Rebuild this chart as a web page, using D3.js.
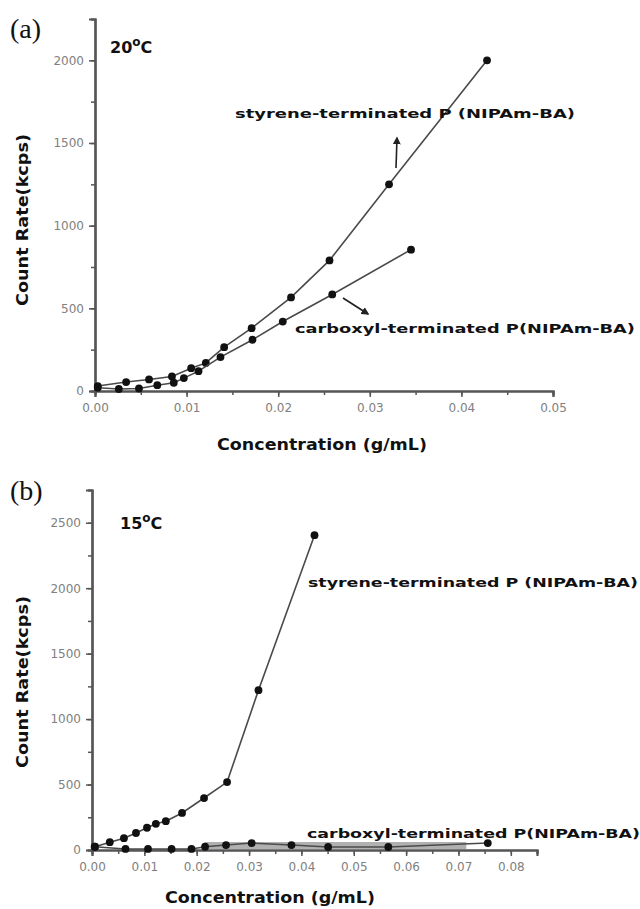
<!DOCTYPE html>
<html>
<head>
<meta charset="utf-8">
<script src="https://cdn.jsdelivr.net/npm/d3@7"></script>
<style>
  body { margin: 0; background: #fff; }
  svg { display: block; }
</style>
</head>
<body>
<div class="viz"></div>
<script>
// panel (a), 20 °C
const concStyreneA = [0.0003, 0.0034, 0.0059, 0.0084, 0.0105, 0.0121, 0.0141, 0.0171, 0.0214, 0.0256, 0.0321, 0.0428];
const rateStyreneA = [30, 54, 70, 88, 138, 170, 265, 380, 566, 790, 1250, 2000];
const concCarboxylA = [0.0003, 0.0026, 0.0048, 0.0068, 0.0086, 0.0097, 0.0113, 0.0137, 0.0172, 0.0205, 0.0259, 0.0345];
const rateCarboxylA = [20, 12, 15, 35, 50, 78, 120, 205, 310, 420, 584, 855];
const xTicksA = [0, 0.01, 0.02, 0.03, 0.04, 0.05];
const yTicksA = [0, 500, 1000, 1500, 2000];

// panel (b), 15 °C
const concStyreneB = [0.0006, 0.0034, 0.0061, 0.0084, 0.0105, 0.0122, 0.0141, 0.0172, 0.0214, 0.0258, 0.0318, 0.0425];
const rateStyreneB = [25, 60, 90, 130, 170, 200, 220, 283, 397, 519, 1221, 2405];
const concCarboxylB = [0.0005, 0.0064, 0.0107, 0.0152, 0.0190, 0.0216, 0.0256, 0.0305, 0.0381, 0.0451, 0.0566, 0.0756];
const rateCarboxylB = [25, 8, 8, 8, 8, 25, 38, 53, 38, 23, 23, 53];
const xTicksB = [0, 0.01, 0.02, 0.03, 0.04, 0.05, 0.06, 0.07, 0.08];
const yTicksB = [0, 500, 1000, 1500, 2000, 2500];
// grey smear along the baseline of panel (b)
const bandB = [0.0215, 0.0715];

const svg = d3.select('.viz')
  .append('svg')
  .attr('width', 640)
  .attr('height', 909)
  .style('font-family', '"DejaVu Sans", sans-serif');

svg.append('rect').attr('width', 640).attr('height', 909).attr('fill', '#fff');

// arrow head marker
svg.append('defs')
  .append('marker')
  .attr('id', 'arrow')
  .attr('viewBox', '0 0 10 10')
  .attr('refX', 8).attr('refY', 5)
  .attr('markerWidth', 5).attr('markerHeight', 5)
  .attr('orient', 'auto')
  .append('path')
  .attr('d', 'M0 0 L10 5 L0 10 Z')
  .attr('fill', '#222');

const zip = (xs, ys) => xs.map((x, i) => ({ x, y: ys[i] }));

function drawPanel(p) {
  const x = d3.scaleLinear().domain(p.xDomain).range(p.xRange);
  const y = d3.scaleLinear().domain(p.yDomain).range(p.yRange);
  const g = svg.append('g');

  // band behind the data
  if (p.band) {
    g.append('line')
      .attr('x1', x(p.band[0])).attr('x2', x(p.band[1]))
      .attr('y1', y(35)).attr('y2', y(35))
      .attr('stroke', '#b0b0b0')
      .attr('stroke-width', 7);
  }

  // minor ticks, then labelled major ticks on top
  const xMinor = d3.range(p.xDomain[0], p.xDomain[1] + 1e-9, p.xMinor);
  const yMinor = d3.range(p.yDomain[0], p.yDomain[1] + 1e-9, p.yMinor);

  const xAxis = d3.axisBottom(x).tickValues(xMinor).tickSize(4).tickFormat('');
  const yAxis = d3.axisLeft(y).tickValues(yMinor).tickSize(4).tickFormat('');
  g.append('g').attr('class', 'axis').attr('transform', `translate(0 ${p.yRange[0]})`).call(xAxis);
  g.append('g').attr('class', 'axis').attr('transform', `translate(${p.xRange[0]} 0)`).call(yAxis);

  const xMajor = d3.axisBottom(x).tickValues(p.xTicks).tickSize(6).tickPadding(6).tickFormat(d3.format('.2f'));
  const yMajor = d3.axisLeft(y).tickValues(p.yTicks).tickSize(6).tickPadding(5).tickFormat(d3.format('d'));
  g.append('g').attr('class', 'axis').attr('transform', `translate(0 ${p.yRange[0]})`).call(xMajor);
  g.append('g').attr('class', 'axis').attr('transform', `translate(${p.xRange[0]} 0)`).call(yMajor);

  g.selectAll('.axis path').attr('stroke', '#555').attr('stroke-width', 2.2);
  g.selectAll('.axis line').attr('stroke', '#555').attr('stroke-width', 1.5);
  g.selectAll('.axis text')
    .attr('fill', '#808080')
    .attr('font-size', 12)
    .attr('font-family', '"DejaVu Sans", sans-serif');

  // series
  const line = d3.line().x(d => x(d.x)).y(d => y(d.y));
  p.series.forEach(s => {
    g.append('path')
      .attr('d', line(s))
      .attr('fill', 'none')
      .attr('stroke', '#4a4a4a')
      .attr('stroke-width', 1.6);
    g.selectAll(null)
      .data(s)
      .enter()
      .append('circle')
      .attr('cx', d => x(d.x))
      .attr('cy', d => y(d.y))
      .attr('r', 3.9)
      .attr('fill', '#111');
  });

  // panel letter
  svg.append('text')
    .attr('x', 10).attr('y', p.letterY)
    .attr('font-family', '"Liberation Serif", serif')
    .attr('font-size', 28)
    .attr('fill', '#111')
    .text(p.letter);

  // temperature
  const t = svg.append('text')
    .attr('x', p.tempX).attr('y', p.tempY)
    .attr('font-size', 16)
    .attr('font-weight', 'bold')
    .attr('fill', '#111');
  t.append('tspan').text(p.temp);
  t.append('tspan').attr('dy', -7).attr('font-size', 12).text('o');
  t.append('tspan').attr('dy', 7).text('C');

  // axis titles
  svg.append('text')
    .attr('transform', `translate(${p.yTitleX} ${p.yTitleY}) rotate(-90)`)
    .attr('text-anchor', 'middle')
    .attr('font-size', 15)
    .attr('font-weight', 'bold')
    .attr('fill', '#111')
    .attr('textLength', 172)
    .attr('lengthAdjust', 'spacingAndGlyphs')
    .text('Count Rate(kcps)');

  svg.append('text')
    .attr('x', p.xTitleX).attr('y', p.xTitleY)
    .attr('text-anchor', 'middle')
    .attr('font-size', 15)
    .attr('font-weight', 'bold')
    .attr('fill', '#111')
    .attr('textLength', 210)
    .attr('lengthAdjust', 'spacingAndGlyphs')
    .text('Concentration (g/mL)');

  // series labels
  p.labels.forEach(l => {
    svg.append('text')
      .attr('x', l.x).attr('y', l.y)
      .attr('font-size', 13)
      .attr('font-weight', 'bold')
      .attr('fill', '#111')
      .attr('textLength', l.w)
      .attr('lengthAdjust', 'spacingAndGlyphs')
      .text(l.text);
  });

  return { x, y };
}

drawPanel({
  xDomain: [0, 0.05], xRange: [95, 553],
  yDomain: [0, 2250], yRange: [391, 19],
  xTicks: xTicksA, yTicks: yTicksA, xMinor: 0.005, yMinor: 250,
  series: [zip(concStyreneA, rateStyreneA), zip(concCarboxylA, rateCarboxylA)],
  letter: '(a)', letterY: 38,
  temp: '20', tempX: 110, tempY: 53,
  yTitleX: 28, yTitleY: 220,
  xTitleX: 322, xTitleY: 450,
  labels: [
    { text: 'styrene-terminated P (NIPAm-BA)', x: 235, y: 118, w: 340 },
    { text: 'carboxyl-terminated P(NIPAm-BA)', x: 295, y: 333, w: 340 },
  ],
});

drawPanel({
  xDomain: [0, 0.085], xRange: [92, 537],
  yDomain: [0, 2750], yRange: [850, 490],
  xTicks: xTicksB, yTicks: yTicksB, xMinor: 0.005, yMinor: 250,
  series: [zip(concStyreneB, rateStyreneB), zip(concCarboxylB, rateCarboxylB)],
  band: bandB,
  letter: '(b)', letterY: 500,
  temp: '15', tempX: 120, tempY: 529,
  yTitleX: 28, yTitleY: 682,
  xTitleX: 270, xTitleY: 903,
  labels: [
    { text: 'styrene-terminated P (NIPAm-BA)', x: 308, y: 587, w: 330 },
    { text: 'carboxyl-terminated P(NIPAm-BA)', x: 307, y: 838, w: 333 },
  ],
});

// annotation arrows in panel (a), from the curves toward their labels
svg.append('line')
  .attr('x1', 396).attr('y1', 168).attr('x2', 397).attr('y2', 138)
  .attr('stroke', '#222').attr('stroke-width', 1.6)
  .attr('marker-end', 'url(#arrow)');
svg.append('line')
  .attr('x1', 343).attr('y1', 298).attr('x2', 368).attr('y2', 314)
  .attr('stroke', '#222').attr('stroke-width', 1.6)
  .attr('marker-end', 'url(#arrow)');
</script>
</body>
</html>
